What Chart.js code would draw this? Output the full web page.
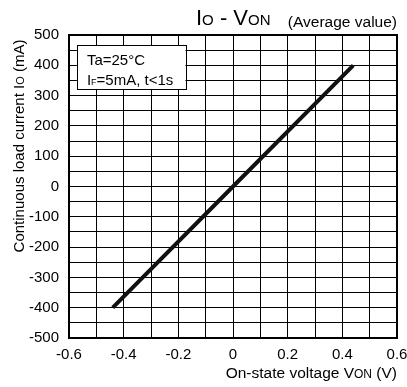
<!DOCTYPE html>
<html>
<head>
<meta charset="utf-8">
<script src="https://cdn.jsdelivr.net/npm/chart.js@4/dist/chart.umd.min.js"></script>
<style>
html,body{margin:0;padding:0;background:#fff;}
#wrap{width:407px;height:387px;position:relative;}
</style>
</head>
<body>
<div id="wrap"><canvas id="c" width="407" height="387"></canvas></div>
<script>
// Data
const voltage = [-0.44, 0, 0.44];          // On-state voltage VON (V)
const current = [-400, 0, 400];            // Continuous load current IO (mA)
const xTickRange = [-0.6, 0.6];
const yTickRange = [-500, 500];
const noteLines = ['Ta=25°C', 'I_F=5mA, t<1s'];
const noteBox = {x1: -0.571, x2: -0.174, y1: 467, y2: 322};

const FONT = '"Liberation Sans", Arial, sans-serif';

function drawSubText(ctx, parts, x, y, align) {
  let total = 0;
  parts.forEach(p => { ctx.font = p.size + 'px ' + FONT; p.w = ctx.measureText(p.t).width; total += p.w; });
  let cx = align === 'right' ? x - total : (align === 'center' ? x - total / 2 : x);
  ctx.textAlign = 'left';
  parts.forEach(p => { ctx.font = p.size + 'px ' + FONT; ctx.fillText(p.t, cx, y + (p.dy || 0)); cx += p.w; });
}

const deco = {
  id: 'deco',
  afterDraw(chart) {
    const ctx = chart.ctx;
    const xs = chart.scales.x, ys = chart.scales.y;
    const a = chart.chartArea;
    ctx.save();
    ctx.fillStyle = '#000';
    ctx.textBaseline = 'alphabetic';
    // Title
    drawSubText(ctx, [
      {t: 'I', size: 22}, {t: 'O', size: 15},
      {t: ' - V', size: 22}, {t: 'ON', size: 15}
    ], 196, 25, 'left');
    drawSubText(ctx, [{t: '(Average value)', size: 15.5}], 397, 27, 'right');
    // X axis title
    drawSubText(ctx, [
      {t: 'On-state voltage V', size: 15.5}, {t: 'ON', size: 12}, {t: ' (V)', size: 15.5}
    ], 397, 378, 'right');
    // Y axis title
    ctx.save();
    ctx.translate(24, 146);
    ctx.rotate(-Math.PI / 2);
    drawSubText(ctx, [
      {t: 'Continuous load current I', size: 15}, {t: 'O', size: 11}, {t: ' (mA)', size: 15}
    ], 0, 0, 'center');
    ctx.restore();
    // Note box
    const bx1 = xs.getPixelForValue(noteBox.x1), bx2 = xs.getPixelForValue(noteBox.x2);
    const by1 = ys.getPixelForValue(noteBox.y1), by2 = ys.getPixelForValue(noteBox.y2);
    ctx.fillStyle = '#fff';
    ctx.fillRect(bx1, by1, bx2 - bx1, by2 - by1);
    ctx.strokeStyle = '#000';
    ctx.lineWidth = 1;
    ctx.strokeRect(Math.round(bx1) + 0.5, Math.round(by1) + 0.5, Math.round(bx2 - bx1), Math.round(by2 - by1));
    ctx.fillStyle = '#000';
    drawSubText(ctx, [{t: noteLines[0], size: 15}], bx1 + 10, by1 + 20, 'left');
    const l2 = noteLines[1].split('_');
    drawSubText(ctx, [{t: 'I', size: 15}, {t: 'F', size: 9}, {t: l2[1].slice(1), size: 15}], bx1 + 10, by1 + 40, 'left');
    // Border
    ctx.lineWidth = 2;
    ctx.strokeRect(a.left, a.top, a.right - a.left, a.bottom - a.top);
    ctx.restore();
  }
};

new Chart(document.getElementById('c'), {
  type: 'line',
  data: {
    datasets: [{
      data: voltage.map((v, i) => ({x: v, y: current[i]})),
      borderColor: '#111',
      borderWidth: 4,
      pointRadius: 0,
      fill: false,
      tension: 0
    }]
  },
  options: {
    responsive: false,
    animation: false,
    devicePixelRatio: 1,
    layout: {padding: {top: 35, right: 0, left: 0, bottom: 0}},
    plugins: {legend: {display: false}, tooltip: {enabled: false}},
    scales: {
      x: {
        type: 'linear',
        min: xTickRange[0], max: xTickRange[1],
        afterFit(s) { s.height = 49; s.paddingRight = 10; s.paddingLeft = 0; },
        border: {display: false},
        grid: {color: '#000', lineWidth: 1, drawTicks: false},
        ticks: {
          stepSize: 0.1, padding: 8, color: '#000', maxRotation: 0, autoSkip: false,
          font: {family: FONT, size: 15},
          callback(v) { const k = Math.round(v * 10); return k % 2 === 0 ? String(k / 10) : ''; }
        }
      },
      y: {
        type: 'linear',
        min: yTickRange[0], max: yTickRange[1],
        afterFit(s) { s.width = 69; s.paddingTop = 0; s.paddingBottom = 0; },
        border: {display: false},
        grid: {color: '#000', lineWidth: 1, drawTicks: false},
        ticks: {
          stepSize: 50, padding: 10, color: '#000', autoSkip: false,
          font: {family: FONT, size: 15},
          callback(v) { return Math.round(v) % 100 === 0 ? String(Math.round(v)) : ''; }
        }
      }
    }
  },
  plugins: [deco]
});
</script>
</body>
</html>
